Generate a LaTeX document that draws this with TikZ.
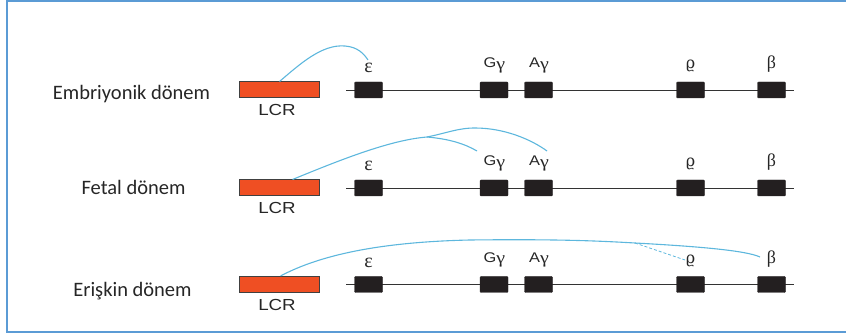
\documentclass[tikz,border=0pt]{standalone}
\usepackage{fontspec}
\usepackage{graphicx}
\setmainfont{Carlito}
\newfontfamily\labfont{Liberation Sans}
\newfontfamily\grfont{Liberation Serif}
\newfontfamily\rhofont{DejaVu Serif}
\usetikzlibrary{calc}
\definecolor{framecol}{HTML}{5B9BD5}
\definecolor{linkblue}{HTML}{5DB7DD}
\definecolor{lcrfill}{HTML}{EF4F23}
\definecolor{genefill}{HTML}{231F20}
\definecolor{labcol}{HTML}{262626}
\definecolor{rowcol}{HTML}{262626}
\newcommand{\glab}[1]{\scalebox{1.17}[1]{#1}}
\newcommand{\gam}{{\grfont\fontsize{17}{18}\selectfont γ}}
\tikzset{
 lcrbox/.style={draw=black!75, fill=lcrfill, line width=1pt, minimum width=80pt, minimum height=16pt, inner sep=0pt},
 genebox/.style={draw=genefill, fill=genefill, minimum width=28pt, minimum height=16pt, inner sep=0pt, rounded corners=1pt},
 dna/.style={draw=black!80, line width=0.9pt},
 link/.style={draw=linkblue, line width=1.1pt},
 rowlab/.style={font=\fontsize{20.5}{24}\selectfont, text=rowcol, anchor=base, inner sep=0pt},
 lcrlab/.style={font=\labfont\fontsize{16}{18}\selectfont, text=labcol, anchor=base, inner sep=0pt},
 genelab/.style={font=\labfont\fontsize{14}{16}\selectfont, text=labcol, anchor=base, inner sep=0pt},
 greeklab/.style={font=\grfont\fontsize{20}{21}\selectfont, text=labcol, anchor=base, inner sep=0pt},
}
\begin{document}
\begin{tikzpicture}[x=1pt,y=-1pt]
\useasboundingbox (0,0) rectangle (846,336);
\clip (0,0) rectangle (846,336);
\draw[framecol, line width=2pt] (7,1) rectangle (870,332.5);

\node[rowlab] (r1) at (131.5,100) {Embriyonik dönem};
\node[rowlab] (r2) at (133.5,195) {Fetal dönem};
\node[rowlab] (r3) at (132.5,297) {Erişkin dönem};

\foreach \r/\y in {1/90,2/188,3/284.5}{
 \coordinate (s\r) at (346,\y);
 \coordinate (t\r) at (794,\y);
 \draw[dna] (s\r) -- (t\r);
 \node[lcrbox] (L\r) at (279.5,\y) {};
 \node[lcrlab] (LL\r) at (277,\y+26) {\glab{LCR}};
 \node[genebox] (e\r) at (368.5,\y) {};
 \node[genebox] (g\r) at (494,\y) {};
 \node[genebox] (a\r) at (538.5,\y) {};
 \node[genebox] (p\r) at (690.5,\y) {};
 \node[genebox] (b\r) at (771.5,\y) {};
 \node[greeklab] (le\r) at (368.5,\y-17) {ε};
 \node[genelab] (lg\r) at (494.5,\y-22) {\glab{G\raisebox{-1.5pt}{\gam}}};
 \node[genelab] (la\r) at (539,\y-22) {\glab{A\raisebox{-1.5pt}{\gam}}};
 \node[greeklab, font=\rhofont\fontsize{16}{17}\selectfont] (lp\r) at (690.5,\y-21) {ϱ};
 \node[greeklab, font=\grfont\fontsize{18}{19}\selectfont] (lb\r) at (771.5,\y-21) {β};
}

% row 1
\coordinate (c1) at (368,60);
\draw[link] (L1.north) .. controls (300,64) and (322,44) .. (345,46) .. controls (358,47) and (364,54) .. (c1);

% row 2
\coordinate (k2) at (427,137);
\coordinate (c2g) at (477,151);
\coordinate (c2a) at (547,151);
\draw[link] ($(L2.north)+(13,0)$) .. controls (340,160) and (390,140) .. (k2) .. controls (447,133) and (458,128) .. (475,128) .. controls (505,128) and (532,140) .. (c2a);
\draw[link] (k2) .. controls (450,139) and (465,144) .. (c2g);

% row 3
\coordinate (k3) at (635,243);
\coordinate (c3b) at (760,257);
\coordinate (c3r) at (685,260);
\draw[link] ($(L3.north)+(1,0)$) .. controls (320,255) and (380,242) .. (470,240) .. controls (560,239) and (600,241) .. (k3) .. controls (690,246) and (745,250) .. (c3b);
\draw[link, line width=0.8pt, dash pattern=on 3pt off 2pt] (k3) -- (c3r);
\end{tikzpicture}
\end{document}
